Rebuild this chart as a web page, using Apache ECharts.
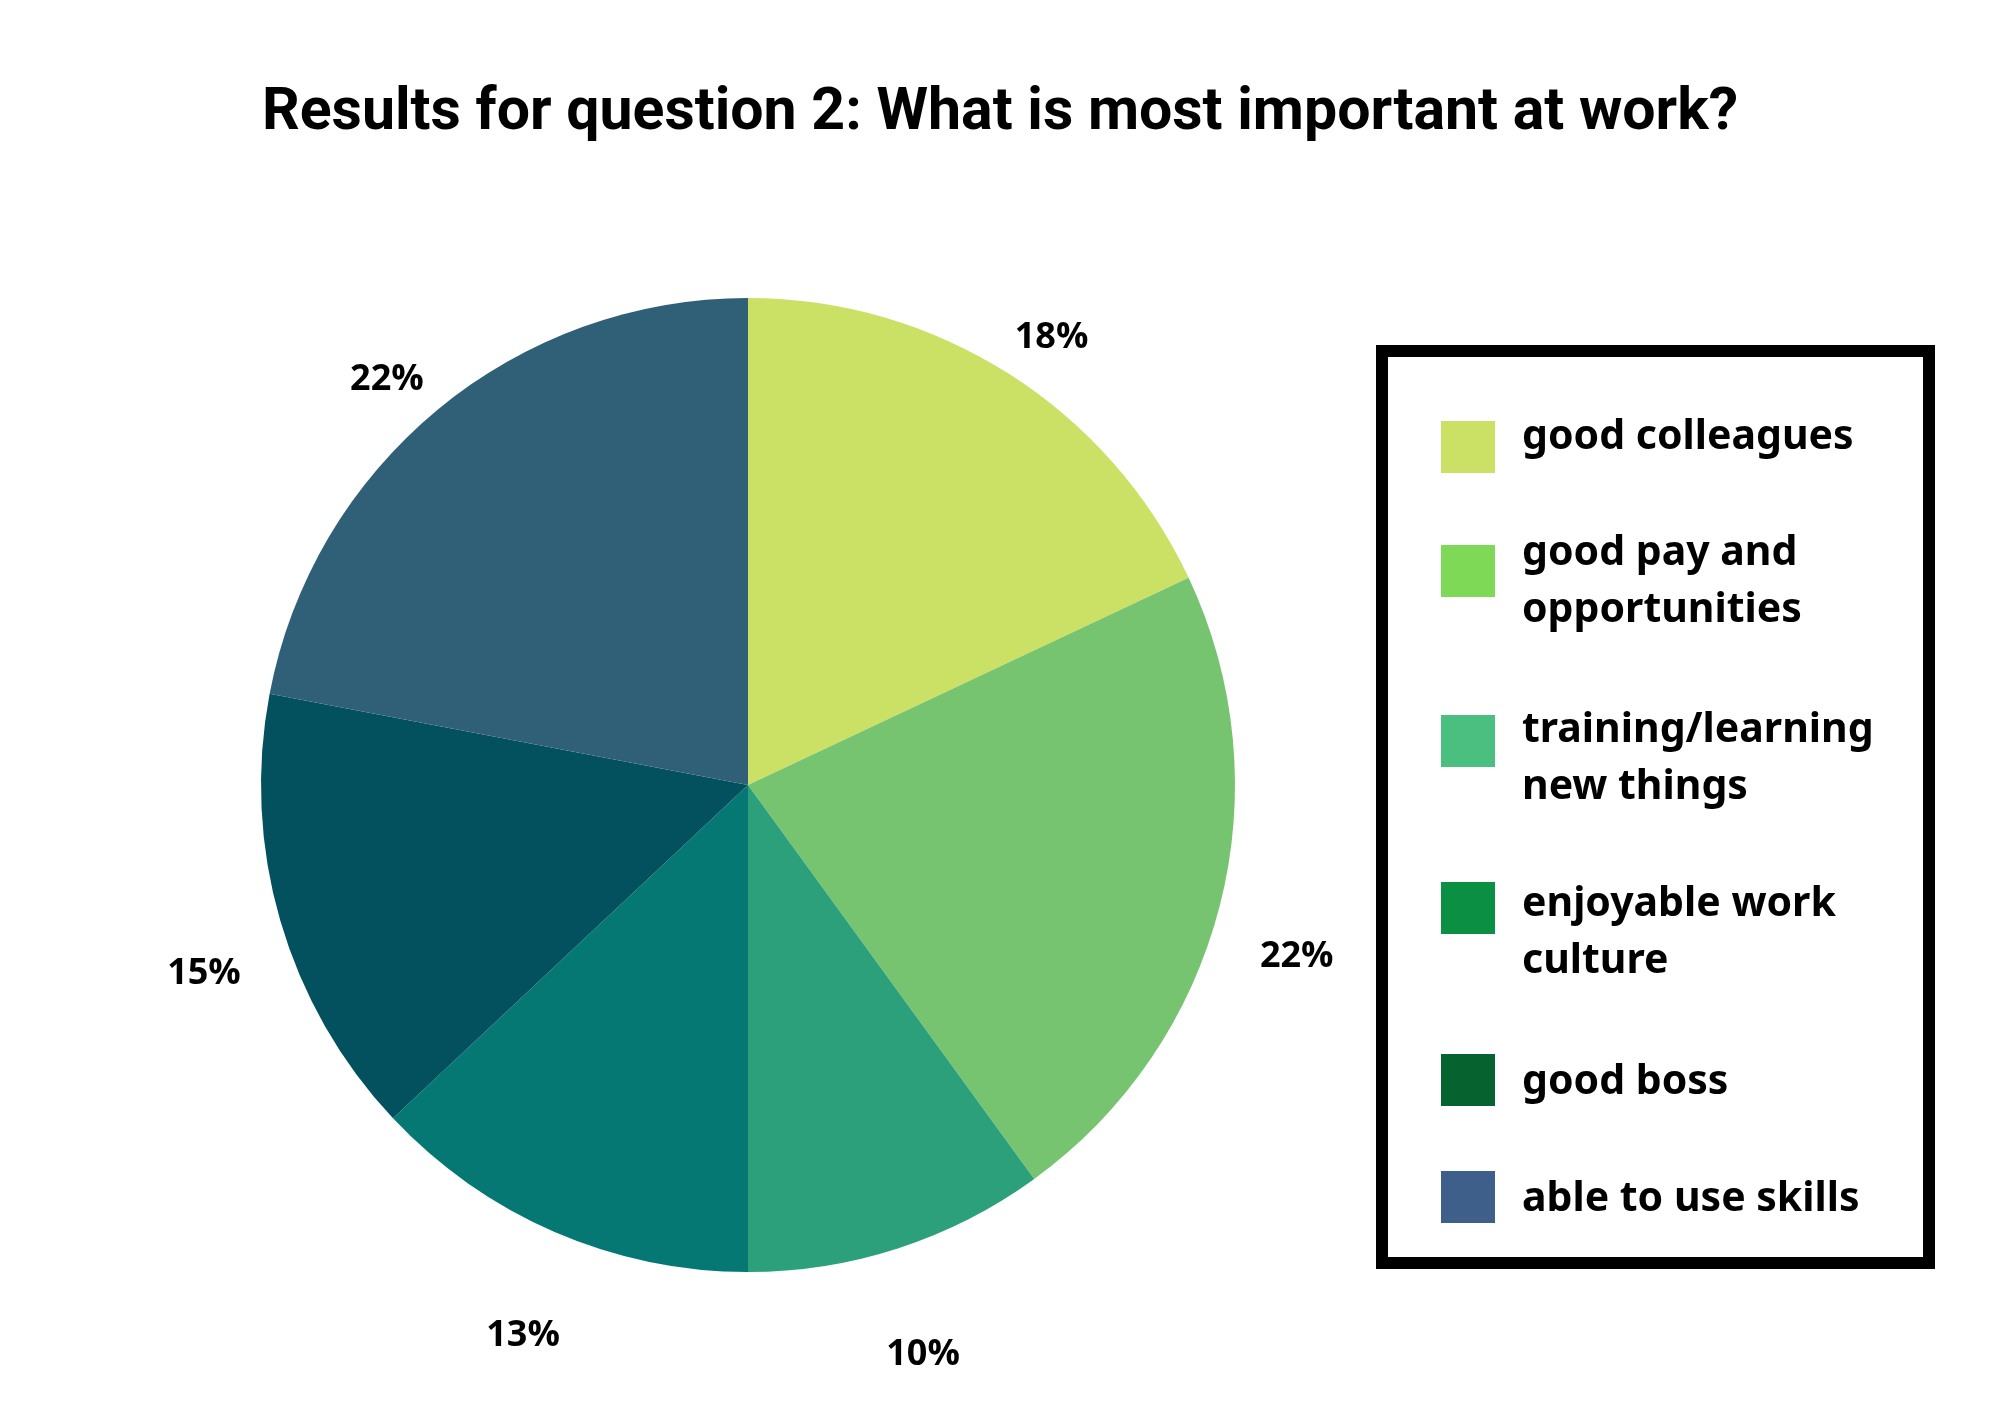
<!DOCTYPE html>
<html>
<head>
<meta charset="utf-8">
<script src="https://cdn.jsdelivr.net/npm/echarts@6/dist/echarts.min.js"></script>
<style>
  html, body { margin: 0; padding: 0; background: #ffffff; }
  #chart { width: 2000px; height: 1414px; }
</style>
</head>
<body>
<div id="chart"></div>
<script>
const titleText = 'Results for question 2: What is most important at work?';
const categories = ['good colleagues', 'good pay and opportunities', 'training/learning new things', 'enjoyable work culture', 'good boss', 'able to use skills'];
const legendText = ['good colleagues', 'good pay and\nopportunities', 'training/learning\nnew things', 'enjoyable work\nculture', 'good boss', 'able to use skills'];
const values = [18, 22, 10, 13, 15, 22];
const sliceColors = ['#CBE166', '#76C46F', '#2BA07B', '#057873', '#03505E', '#2F6078'];
const legendColors = ['#CBE166', '#7ED957', '#4BBF80', '#0B8F43', '#06632F', '#3E5F8A'];

const chart = echarts.init(document.getElementById('chart'), null, { renderer: 'canvas' });

const pieData = categories.map((c, i) => ({ name: c, value: values[i], itemStyle: { color: sliceColors[i] } }));
const labelData = categories.map((c, i) => ({ name: c, value: values[i] }));

// legend layout: icon centres and vertical text nudges (layout only)
const iconCenters = [447, 571, 741, 908, 1080, 1197];
const textShift = [-10, 11, 18, 25, 2.5, 2.5];
const lineH = 57;
const iconH = 52;
const halfTok = 20;

function legendOpt(c, i) {
  const lines = legendText[i].split('\n');
  const s = textShift[i];
  const H = 2 * (halfTok + Math.abs(s));
  const single = lines.length === 1;
  const tLH = single ? Math.min(lineH, H) : lineH;
  const text = lines.map((ln, k) => {
    let str = '{t|' + ln + '}';
    if (s > 0 && k === 0) str = '{sp|}' + str;
    if (s < 0 && k === lines.length - 1) str = str + '{sp|}';
    return str;
  }).join('\n');
  const firstH = Math.max(H, tLH);
  const blockH = single ? firstH : firstH + (lines.length - 1) * lineH;
  const half = Math.max(iconH / 2, blockH / 2);
  return {
    orient: 'vertical',
    left: 1441,
    top: iconCenters[i] - half,
    padding: 0,
    itemWidth: 54,
    itemHeight: iconH,
    icon: 'rect',
    selectedMode: false,
    data: [{ name: c, itemStyle: { color: legendColors[i], borderWidth: 0 } }],
    formatter: () => text,
    textStyle: {
      fontFamily: 'Noto Sans',
      fontWeight: 'bold',
      fontSize: 41,
      color: '#000000',
      padding: [0, 0, 0, 22],
      rich: {
        t: {
          fontFamily: 'Noto Sans',
          fontWeight: 'bold',
          fontSize: 41,
          lineHeight: tLH,
          color: '#000000',
          verticalAlign: s > 0 ? 'bottom' : 'top'
        },
        sp: { width: 0, height: H, lineHeight: H }
      }
    }
  };
}
const legends = categories.map(legendOpt);

const option = {
  backgroundColor: '#ffffff',
  animation: false,
  title: {
    text: titleText,
    left: 'center',
    top: 80,
    textStyle: { fontFamily: 'Roboto', fontWeight: 'bold', fontSize: 59, color: '#000000' }
  },
  legend: legends,
  graphic: [{
    type: 'rect',
    shape: { x: 1382, y: 351, width: 547, height: 912 },
    style: { fill: 'none', stroke: '#000000', lineWidth: 12 },
    silent: true
  }],
  series: [
    {
      type: 'pie',
      center: [748, 785],
      radius: 487,
      startAngle: 90,
      clockwise: true,
      silent: true,
      label: { show: false },
      labelLine: { show: false },
      itemStyle: { borderWidth: 0 },
      data: pieData
    },
    {
      type: 'pie',
      center: [748, 816],
      radius: [516, 611],
      startAngle: 90,
      clockwise: true,
      silent: true,
      itemStyle: { color: 'rgba(0,0,0,0)', borderWidth: 0 },
      label: {
        show: true,
        position: 'inside',
        formatter: '{d}%',
        fontFamily: 'Open Sans',
        fontWeight: 'bold',
        fontSize: 36,
        color: '#000000'
      },
      labelLine: { show: false },
      data: labelData
    }
  ]
};
chart.setOption(option);
</script>
</body>
</html>
